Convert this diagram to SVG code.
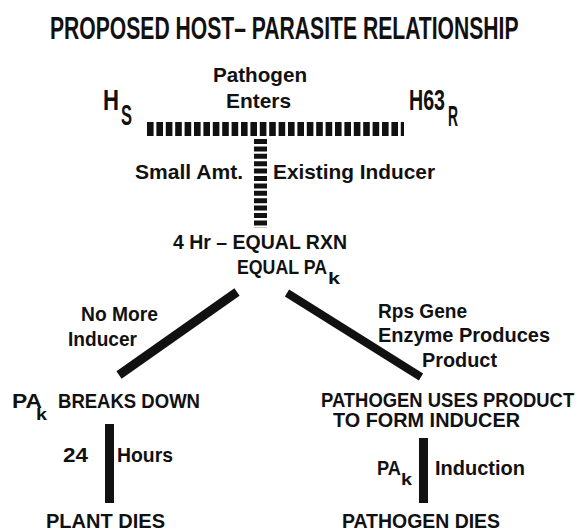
<svg xmlns="http://www.w3.org/2000/svg" width="581" height="531" viewBox="0 0 581 531">
<style>
  text { font-family: "Liberation Sans", Arial, sans-serif; font-weight: bold; fill: #111; }
  .t { font-size: 32px; }
  .h { font-size: 29px; }
  .m { font-size: 21px; }
  .s { font-size: 17px; }
  .bar { stroke: #111; fill: none; }
  .solid { fill: #111; }
</style>
<rect width="581" height="531" fill="#fff"/>
<g id="connectors">
  <line class="bar" x1="147" y1="129" x2="404" y2="129" stroke-width="14" stroke-dasharray="6.6 2.8"/>
  <line class="bar" x1="260.5" y1="139" x2="260.5" y2="228" stroke-width="13" stroke-dasharray="5 2.4"/>
  <line class="bar" x1="237" y1="292" x2="119" y2="375" stroke-width="9"/>
  <line class="bar" x1="287" y1="293" x2="421" y2="377" stroke-width="8"/>
  <rect class="solid" x="105" y="424" width="9" height="79"/>
  <rect class="solid" x="419" y="438" width="9" height="65"/>
</g>
<g id="title"><text class="t" transform="translate(50,39) scale(0.66,1)">PROPOSED HOST– PARASITE RELATIONSHIP</text></g>
<g id="hs">
  <text class="h" x="103" y="110" textLength="16" lengthAdjust="spacingAndGlyphs">H</text>
  <text class="h" x="121" y="125" textLength="11" lengthAdjust="spacingAndGlyphs">S</text>
</g>
<g id="h63r">
  <text class="h" x="409" y="110" textLength="36" lengthAdjust="spacingAndGlyphs">H63</text>
  <text class="h" x="448" y="126" textLength="10" lengthAdjust="spacingAndGlyphs">R</text>
</g>
<g id="pathogen-enters">
  <text class="m" x="213" y="82" textLength="94" lengthAdjust="spacingAndGlyphs">Pathogen</text>
  <text class="m" x="226" y="108" textLength="65" lengthAdjust="spacingAndGlyphs">Enters</text>
</g>
<g id="small-amt"><text class="m" x="135" y="179" textLength="108" lengthAdjust="spacingAndGlyphs">Small Amt.</text></g>
<g id="existing-inducer"><text class="m" x="273" y="179" textLength="162" lengthAdjust="spacingAndGlyphs">Existing Inducer</text></g>
<g id="equal-rxn">
  <text class="m" x="173" y="249" textLength="174" lengthAdjust="spacingAndGlyphs">4 Hr – EQUAL RXN</text>
  <text class="m" x="237" y="274" textLength="90" lengthAdjust="spacingAndGlyphs">EQUAL PA</text>
  <text class="s" x="328" y="284" textLength="12" lengthAdjust="spacingAndGlyphs">k</text>
</g>
<g id="no-more-inducer">
  <text class="m" x="81" y="321" textLength="77" lengthAdjust="spacingAndGlyphs">No More</text>
  <text class="m" x="68" y="346" textLength="69" lengthAdjust="spacingAndGlyphs">Inducer</text>
</g>
<g id="pak-breaks-down">
  <text class="m" x="12" y="408" textLength="30" lengthAdjust="spacingAndGlyphs">PA</text>
  <text class="s" x="36" y="420" textLength="11" lengthAdjust="spacingAndGlyphs">k</text>
  <text class="m" x="58" y="408" textLength="142" lengthAdjust="spacingAndGlyphs">BREAKS DOWN</text>
</g>
<g id="hours">
  <text class="m" x="63" y="462" textLength="25" lengthAdjust="spacingAndGlyphs">24</text>
  <text class="m" x="117" y="462" textLength="56" lengthAdjust="spacingAndGlyphs">Hours</text>
</g>
<g id="plant-dies"><text class="m" x="46" y="528" textLength="119" lengthAdjust="spacingAndGlyphs">PLANT DIES</text></g>
<g id="rps-gene">
  <text class="m" x="378" y="318" textLength="89" lengthAdjust="spacingAndGlyphs">Rps Gene</text>
  <text class="m" x="378" y="342" textLength="172" lengthAdjust="spacingAndGlyphs">Enzyme Produces</text>
  <text class="m" x="422" y="367" textLength="75" lengthAdjust="spacingAndGlyphs">Product</text>
</g>
<g id="pathogen-uses-product">
  <text class="m" transform="translate(321,407) scale(0.8776,1)">PATHOGEN USES PRODUCT</text>
  <text class="m" x="333" y="427" textLength="187" lengthAdjust="spacingAndGlyphs">TO FORM INDUCER</text>
</g>
<g id="pak-induction">
  <text class="m" x="377" y="475" textLength="24" lengthAdjust="spacingAndGlyphs">PA</text>
  <text class="s" x="401" y="485" textLength="11" lengthAdjust="spacingAndGlyphs">k</text>
  <text class="m" x="435" y="475" textLength="90" lengthAdjust="spacingAndGlyphs">Induction</text>
</g>
<g id="pathogen-dies"><text class="m" x="342" y="528" textLength="158" lengthAdjust="spacingAndGlyphs">PATHOGEN DIES</text></g>
</svg>
